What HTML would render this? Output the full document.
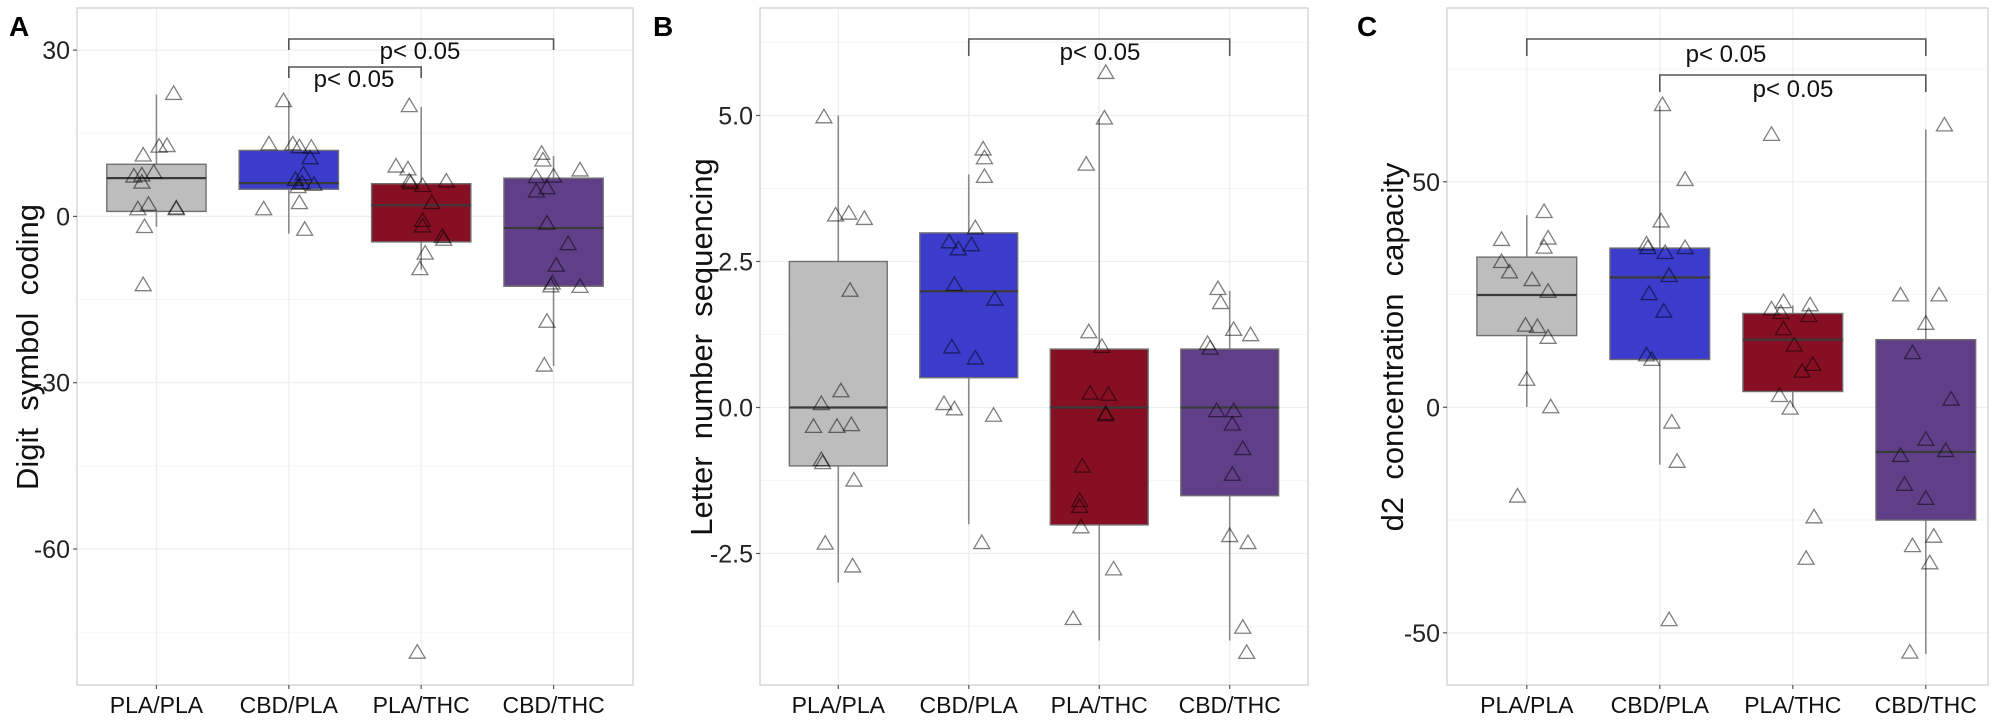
<!DOCTYPE html>
<html><head><meta charset="utf-8"><style>
html,body{margin:0;padding:0;background:#fff;}
svg{display:block;font-family:"Liberation Sans",Arial,sans-serif;}
</style></head><body>
<svg id="fig" width="2008" height="725" viewBox="0 0 2008 725" xmlns="http://www.w3.org/2000/svg"></svg>
<script>
const categories = ["PLA/PLA","CBD/PLA","PLA/THC","CBD/THC"];
const colors = ["#bdbdbd","#3b3bcc","#870f24","#603f88"];

// Panel A: Digit symbol coding
const aQ1 = [0.9, 4.9, -4.6, -12.6];
const aMed = [6.9, 6.0, 2.0, -2.1];
const aQ3 = [9.4, 11.9, 5.9, 6.9];
const aLo = [-1.9, -3.1, -9.6, -27.0];
const aHi = [22.0, 20.7, 19.8, 10.9];
const aPts = [
 [22.0,12.6,12.5,10.9,7.8,7.1,7.3,6.0,2.0,1.2,1.35,1.2,-2.0,-12.5],
 [20.7,12.9,12.9,12.4,12.3,10.4,7.5,6.5,5.9,5.2,5.6,1.2,2.3,-2.5],
 [19.8,8.9,8.4,6.2,5.9,5.4,6.2,2.3,-0.9,-1.9,-3.8,-4.3,-6.8,-9.6,-78.8],
 [11.2,10.0,7.0,7.1,4.4,5.0,-1.4,-5.1,-9.0,-12.2,-12.7,8.2,-12.8,-19.1,-27.0]
];
const aJit = [
 [13,8,2,-10,-2,-17,-11,-11,-6,-14,15,15,-9,-10],
 [-4,-15,3,8,17,16,11,5,10,7,19,-19,8,12],
 [-9,-19,-10,-9,-8,1,19,8,1,1,16,17,3,-1,-3],
 [-9,-8,-13,0,-13,-5,-5,11,2,-1,-2,20,20,-5,-7]
];
const aTicks = [30,0,-30,-60];
const aTickLabels = ["30","0","-30","-60"];
const aMinor = [15,-15,-45,-75];

// Panel B: Letter number sequencing
const bQ1 = [-1.0, 0.51, -2.01, -1.51];
const bMed = [0.0, 1.99, 0.0, 0.0];
const bQ3 = [2.5, 2.99, 1.0, 1.0];
const bLo = [-3.0, -2.0, -3.99, -3.99];
const bHi = [5.0, 3.99, 4.94, 2.0];
const bPts = [
 [4.96,3.28,3.31,3.22,1.99,0.27,0.05,-0.34,-0.34,-0.31,-0.91,-0.96,-1.26,-2.34,-2.73],
 [4.41,4.26,3.94,3.06,2.82,2.70,2.77,2.09,1.84,1.02,0.83,0.05,-0.04,-0.15,-2.33],
 [5.72,4.94,4.15,1.28,1.03,0.23,0.21,-0.12,-0.14,-1.02,-1.61,-1.71,-2.06,-2.78,-3.63],
 [2.02,1.78,1.32,1.23,1.08,1.0,-0.07,-0.07,-0.3,-0.72,-1.16,-2.21,-2.33,-3.78,-4.21]
];
const bJit = [
 [-11,-2,8,20,9,2,-13,-19,-1,10,-13,-12,12,-10,11],
 [11,12,12,5,-15,-8,2,-11,20,-13,5,-19,-11,19,10],
 [5,4,-10,-8,2,-7,7,5,5,-13,-15,-15,-14,11,-20],
 [-9,-7,3,16,-17,-15,-10,3,2,10,2,0,14,10,13]
];
const bTicks = [5.0,2.5,0.0,-2.5];
const bTickLabels = ["5.0","2.5","0.0","-2.5"];
const bMinor = [6.25,3.75,1.25,-1.25,-3.75];

// Panel C: d2 concentration capacity
const cQ1 = [15.9, 10.6, 3.5, -25.0];
const cMed = [24.9, 28.8, 15.0, -9.9];
const cQ3 = [33.3, 35.3, 20.8, 15.0];
const cLo = [0.1, -12.7, 0.0, -54.7];
const cHi = [42.6, 66.9, 22.6, 61.6];
const cPts = [
 [43.2,37.0,37.3,35.3,32.1,29.8,28.1,25.5,18.0,17.7,15.3,6.0,-0.1,-19.9],
 [66.9,50.3,41.1,36.0,35.2,34.1,35.2,29.0,25.0,21.1,11.4,10.4,-3.5,-12.2,-47.3],
 [60.3,23.2,21.6,20.8,22.5,20.1,17.2,13.6,9.3,7.8,2.4,-0.4,-24.5,-33.7],
 [62.4,24.7,24.7,18.4,11.9,1.6,-7.3,-10.9,-9.8,-17.3,-20.4,-28.8,-30.9,-34.7,-54.5]
];
const cJit = [
 [13,-19,16,13,-19,-13,4,16,-1,8,16,0,18,-7],
 [2,19,1,-10,-9,4,19,7,-8,3,-10,-6,9,13,7],
 [-16,-7,-16,-9,13,12,-7,1,15,7,-10,-2,16,10],
 [14,-19,10,0,-10,19,0,-19,15,-16,0,6,-10,3,-12]
];
const cTicks = [50,0,-50];
const cTickLabels = ["50","0","-50"];
const cMinor = [75,25,-25];

const NS = "http://www.w3.org/2000/svg";
const svg = document.getElementById("fig");
function mk(tag, attrs, parent){
  const e = document.createElementNS(NS, tag);
  for (const k in attrs) e.setAttribute(k, attrs[k]);
  (parent||svg).appendChild(e);
  return e;
}

function panel(cfg){
  const g = mk("g", {});
  
  
  const top = 8, bottom = 685;
  const band = cfg.band || (cfg.right - cfg.left) / 4.2;
  const xS = i => cfg.left + band * (0.6 + i);
  const yS = v => cfg.y0 - cfg.k * v;
  const bg = mk("rect", {x:cfg.left, y:top, width:cfg.right-cfg.left, height:bottom-top, fill:"#fff"}, g);
  
  
  cfg.minor.forEach(v => { const y=yS(v); if(y>top&&y<bottom) mk("line",{x1:cfg.left,x2:cfg.right,y1:y,y2:y,stroke:"#f6f6f6","stroke-width":1},g); });
  cfg.ticks.forEach(v => mk("line",{x1:cfg.left,x2:cfg.right,y1:yS(v),y2:yS(v),stroke:"#eeeeee","stroke-width":1.2},g));
  categories.forEach((c,i)=> mk("line",{x1:xS(i),x2:xS(i),y1:top,y2:bottom,stroke:"#eeeeee","stroke-width":1.2},g));
  categories.forEach((c,i)=>{
    const x = xS(i), hw = band*0.375;
    const w = mk("line",{x1:x,x2:x,y1:yS(cfg.hi[i]),y2:yS(cfg.lo[i]),stroke:"#8a8a8a","stroke-width":1.6},g);
    
    
    const b = mk("rect",{x:x-hw,y:yS(cfg.q3[i]),width:2*hw,height:yS(cfg.q1[i])-yS(cfg.q3[i]),fill:colors[i],stroke:"#707070","stroke-width":1.4},g);
    
    
    mk("line",{x1:x-hw,x2:x+hw,y1:yS(cfg.med[i]),y2:yS(cfg.med[i]),stroke:"#3a3a3a","stroke-width":2.2},g);
  });
  categories.forEach((c,i)=>{
    cfg.pts[i].forEach((v,j)=>{
      const x = xS(i) + band*cfg.jit[i][j]/100, y = yS(v);
      const p = mk("polygon",{points:`${x-8},${y+5} ${x+8},${y+5} ${x},${y-8.5}`,fill:"none",stroke:"rgba(0,0,0,0.5)","stroke-width":1.3},g);
      
      
    });
  });
  const border = mk("rect",{x:cfg.left,y:top,width:cfg.right-cfg.left,height:bottom-top,fill:"none",stroke:"#d4d4d4","stroke-width":1.4},g);
  
  
  cfg.ticks.forEach((v,i)=>{
    mk("line",{x1:cfg.left-4,x2:cfg.left,y1:yS(v),y2:yS(v),stroke:"#555","stroke-width":1.2},g);
    const t = mk("text",{x:cfg.left-7,y:yS(v)+9,"text-anchor":"end","font-size":25,fill:"#222"},g);
    t.textContent = cfg.tickLabels[i];
    
    
  });
  categories.forEach((c,i)=>{
    mk("line",{x1:xS(i),x2:xS(i),y1:bottom,y2:bottom+4,stroke:"#555","stroke-width":1.2},g);
    const t = mk("text",{x:xS(i),y:713,"text-anchor":"middle","font-size":23,fill:"#111"},g);
    t.textContent = c;
    
    
  });
  const title = mk("text",{x:0,y:0,"text-anchor":"middle","font-size":31,fill:"#111",transform:`translate(${cfg.titleX},347) rotate(-90)`,style:"white-space:pre"},g);
  title.textContent = cfg.title;
  
  
  const L = mk("text",{x:cfg.letterX,y:36,"font-size":28,"font-weight":"bold",fill:"#000"},g);
  L.textContent = cfg.letter;
  
  
  cfg.brackets.forEach(br=>{
    const x1 = xS(br[0]), x2 = xS(br[1]), y = br[2], d = br[3];
    const pth = mk("path",{d:`M${x1},${y+d} V${y} H${x2} V${y+d}`,fill:"none",stroke:"#555","stroke-width":1.6},g);
    
    
    const t = mk("text",{x:br[4],y:br[5],"text-anchor":"middle","font-size":24,fill:"#111"},g);
    t.textContent = "p< 0.05";
    
    
  });
}

panel({id:"a",letter:"A",letterX:9,left:77,right:633,y0:216.4,k:5.543,ticks:aTicks,tickLabels:aTickLabels,minor:aMinor,
  q1:aQ1,med:aMed,q3:aQ3,lo:aLo,hi:aHi,pts:aPts,jit:aJit,title:"Digit  symbol  coding",titleX:38,
  brackets:[[1,3,39,11,420,59],[1,2,67,11,354,87]]});
panel({id:"b",letter:"B",letterX:653,left:760,right:1308,y0:407.5,k:58.4,ticks:bTicks,tickLabels:bTickLabels,minor:bMinor,
  q1:bQ1,med:bMed,q3:bQ3,lo:bLo,hi:bHi,pts:bPts,jit:bJit,title:"Letter  number  sequencing",titleX:712,
  brackets:[[1,3,39,17,1100,60]]});
panel({id:"c",letter:"C",letterX:1357,left:1447,right:1988,band:133,y0:407.3,k:4.51,ticks:cTicks,tickLabels:cTickLabels,minor:cMinor,
  q1:cQ1,med:cMed,q3:cQ3,lo:cLo,hi:cHi,pts:cPts,jit:cJit,title:"d2  concentration  capacity",titleX:1403,
  brackets:[[0,3,39,17,1726,62],[1,3,75,17,1793,97]]});
</script>
</body></html>
